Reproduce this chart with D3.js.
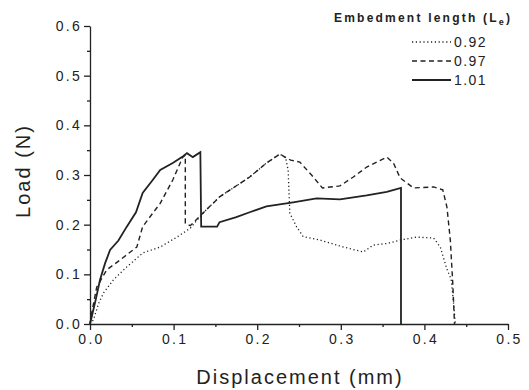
<!DOCTYPE html>
<html lang="en">
<head>
<meta charset="UTF-8">
<title>Load vs displacement</title>
<script src="https://cdn.jsdelivr.net/npm/d3@7"></script>
<style>
    body { margin: 0; background: #fff; }
    .tick text { font-family: Arial, "Liberation Sans", sans-serif; font-size: 14px; letter-spacing: 2.3px; fill: #222; }
    .tick line, .domain { stroke: #222; stroke-width: 1.3px; }
    .axtitle { font-family: Arial, "Liberation Sans", sans-serif; font-size: 20px; letter-spacing: 2px; fill: #222; }
    .legtitle { font-family: Arial, "Liberation Sans", sans-serif; font-size: 12px; font-weight: bold; fill: #222; }
    .leglabel { font-family: Arial, "Liberation Sans", sans-serif; font-size: 14px; letter-spacing: 1.4px; fill: #222; }
</style>
</head>
<body>
<div id="chart"></div>
<script>
    // series: displacement (mm) and load (N)
    var seriesNames = ["0.92", "0.97", "1.01"];

    var x092 = [0, 0.004, 0.01, 0.016, 0.028, 0.044, 0.063, 0.084, 0.104, 0.12, 0.135, 0.155, 0.175, 0.191, 0.211, 0.227,
                0.234, 0.237, 0.239, 0.247, 0.255, 0.275, 0.303, 0.327, 0.339, 0.355, 0.371, 0.391, 0.411, 0.419, 0.427, 0.432, 0.435, 0.437];
    var y092 = [0, 0.008, 0.04, 0.062, 0.089, 0.115, 0.143, 0.155, 0.175, 0.193, 0.223, 0.256, 0.278, 0.296, 0.324, 0.342,
                0.335, 0.31, 0.223, 0.196, 0.176, 0.169, 0.155, 0.145, 0.159, 0.162, 0.169, 0.175, 0.173, 0.155, 0.11, 0.09, 0.04, 0];

    var x097 = [0, 0.002, 0.008, 0.02, 0.036, 0.056, 0.063, 0.084, 0.099, 0.111, 0.114, 0.114, 0.12, 0.135, 0.155, 0.191, 0.211, 0.227,
                0.24, 0.251, 0.265, 0.278, 0.299, 0.315, 0.331, 0.355, 0.363, 0.371, 0.387, 0.411, 0.422, 0.427, 0.431, 0.434, 0.436];
    var y097 = [0, 0.022, 0.074, 0.109, 0.129, 0.155, 0.196, 0.243, 0.29, 0.336, 0.34, 0.203, 0.198, 0.223, 0.256, 0.296, 0.324, 0.342,
                0.33, 0.326, 0.3, 0.274, 0.278, 0.296, 0.316, 0.336, 0.324, 0.294, 0.274, 0.276, 0.27, 0.235, 0.169, 0.08, 0];

    var x101 = [0, 0.002, 0.007, 0.012, 0.018, 0.024, 0.034, 0.044, 0.055, 0.063, 0.075, 0.084, 0.099, 0.11, 0.116, 0.123, 0.132, 0.133,
                0.152, 0.155, 0.175, 0.191, 0.211, 0.243, 0.271, 0.299, 0.331, 0.355, 0.372, 0.372];
    var y101 = [0, 0.014, 0.05, 0.089, 0.122, 0.149, 0.168, 0.196, 0.225, 0.264, 0.29, 0.31, 0.324, 0.336, 0.344, 0.336, 0.346, 0.196,
                0.196, 0.205, 0.215, 0.225, 0.237, 0.245, 0.253, 0.251, 0.259, 0.266, 0.274, 0];

    var xTicks = [0, 0.1, 0.2, 0.3, 0.4, 0.5];
    var yTicks = [0, 0.1, 0.2, 0.3, 0.4, 0.5, 0.6];

    var margin = {top: 26, right: 21, bottom: 66, left: 90},
        width = 529 - margin.left - margin.right,
        height = 390 - margin.top - margin.bottom;

    var svg = d3.select("#chart").append("svg")
        .attr("width", 529)
        .attr("height", 390);

    var g = svg.append("g")
        .attr("transform", "translate(" + margin.left + "," + margin.top + ")");

    var x = d3.scaleLinear().domain([0, 0.5]).range([0, width]);
    var y = d3.scaleLinear().domain([0, 0.6]).range([height, 0]);

    // minor ticks
    g.append("g")
        .attr("transform", "translate(0," + height + ")")
        .call(d3.axisBottom(x).tickValues(d3.range(0.05, 0.5, 0.1)).tickSize(3).tickFormat(""))
        .call(a => a.select(".domain").remove());
    g.append("g")
        .call(d3.axisLeft(y).tickValues(d3.range(0.05, 0.6, 0.1)).tickSize(3).tickFormat(""))
        .call(a => a.select(".domain").remove());

    // major axes
    g.append("g")
        .attr("transform", "translate(0," + height + ")")
        .call(d3.axisBottom(x).tickValues(xTicks).tickSize(6).tickSizeOuter(0).tickPadding(4).tickFormat(d3.format(".1f")))
        .selectAll(".tick text").attr("dx", "1px");
    g.append("g")
        .call(d3.axisLeft(y).tickValues(yTicks).tickSize(6).tickSizeOuter(0).tickPadding(2).tickFormat(d3.format(".1f")));

    // axis titles
    svg.append("text")
        .attr("class", "axtitle")
        .attr("x", margin.left + width / 2 + 1)
        .attr("y", 384)
        .attr("text-anchor", "middle")
        .text("Displacement (mm)");

    svg.append("text")
        .attr("class", "axtitle")
        .attr("transform", "translate(30," + 171 + ") rotate(-90)")
        .attr("text-anchor", "middle")
        .text("Load (N)");

    var styles = {
        "0.92": {dash: "1.2,2.6", w: 1.3},
        "0.97": {dash: "5,3.5", w: 1.4},
        "1.01": {dash: null, w: 1.8}
    };

    var data = [
        {name: "0.92", xs: x092, ys: y092},
        {name: "0.97", xs: x097, ys: y097},
        {name: "1.01", xs: x101, ys: y101}
    ];

    var line = d3.line()
        .x(d => x(d[0]))
        .y(d => y(d[1]));

    data.forEach(function(s) {
        var pts = s.xs.map((v, i) => [v, s.ys[i]]);
        g.append("path")
            .datum(pts)
            .attr("fill", "none")
            .attr("stroke", "#222")
            .attr("stroke-width", styles[s.name].w)
            .attr("stroke-dasharray", styles[s.name].dash)
            .attr("d", line);
    });

    // legend
    var legend = svg.append("g");
    var lt = legend.append("text")
        .attr("class", "legtitle")
        .attr("x", 334)
        .attr("y", 22)
        .attr("textLength", 176)
        .attr("lengthAdjust", "spacing");
    lt.append("tspan").text("Embedment length (L");
    lt.append("tspan").attr("dy", 3).attr("font-size", "9px").text("e");
    lt.append("tspan").attr("dy", -3).text(")");

    seriesNames.forEach(function(n, i) {
        var ly = 47 + i * 19;
        legend.append("line")
            .attr("x1", 412).attr("x2", 451)
            .attr("y1", ly - 5).attr("y2", ly - 5)
            .attr("stroke", "#222")
            .attr("stroke-width", styles[n].w)
            .attr("stroke-dasharray", styles[n].dash);
        legend.append("text")
            .attr("class", "leglabel")
            .attr("x", 454)
            .attr("y", ly)
            .text(n);
    });
</script>
</body>
</html>
